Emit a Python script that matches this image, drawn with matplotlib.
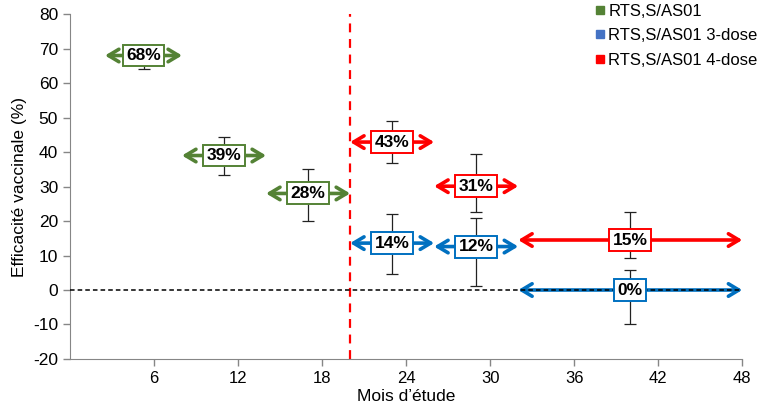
import matplotlib.pyplot as plt
from matplotlib.lines import Line2D

plt.rcParams['font.family'] = ['Liberation Sans', 'DejaVu Sans']
plt.rcParams['axes.unicode_minus'] = False

# data
groups = ['RTS,S/AS01', 'RTS,S/AS01 3-dose', 'RTS,S/AS01 4-dose']
colors = ['#548235', '#0070C0', '#FF0000']
legend_colors = ['#548235', '#4472C4', '#FF0000']

green_start = [2.5, 8, 14]
green_end = [8, 14, 20]
green_ve = [68, 39, 28]
green_lo = [64, 33.3, 20]
green_hi = [71, 44.3, 35]

blue_start = [20, 26, 32]
blue_end = [26, 32, 48]
blue_ve = [14, 12, 0]
blue_pos = [13.6, 12.6, 0]
blue_lo = [4.6, 1.2, -10]
blue_hi = [22.1, 21, 5.8]

red_start = [20, 26, 32]
red_end = [26, 32, 48]
red_ve = [43, 31, 15]
red_pos = [42.9, 30.1, 14.5]
red_lo = [36.8, 22.7, 9.2]
red_hi = [49, 39.4, 22.7]

x_ticks = [6, 12, 18, 24, 30, 36, 42, 48]
y_ticks = list(range(-20, 81, 10))
booster_month = 20

fig = plt.figure(figsize=(7.58, 4.13), dpi=100)
ax = fig.add_axes([0.0923, 0.1308, 0.887, 0.835])


def draw_series(starts, ends, pos, labels, lo, hi, color):
    for x0, x1, y, lab, l, h in zip(starts, ends, pos, labels, lo, hi):
        xc = (x0 + x1) / 2
        ax.annotate('', xy=(x1, y), xytext=(x0, y),
                    arrowprops=dict(arrowstyle='<->,head_length=0.75,head_width=0.45',
                                    lw=2.6, color=color, shrinkA=0, shrinkB=0),
                    zorder=3)
        ax.errorbar([xc], [y], yerr=[[y - l], [h - y]], fmt='none',
                    ecolor='#222222', elinewidth=0.9, capsize=4, capthick=0.9, zorder=4)
        ax.text(xc, y, f'{lab}%', ha='center', va='center', fontsize=12.5,
                fontweight='bold', color='black', zorder=6,
                bbox=dict(boxstyle='square,pad=0.2', fc='white', ec=color, lw=1.4))


draw_series(green_start, green_end, green_ve, green_ve, green_lo, green_hi, colors[0])
draw_series(blue_start, blue_end, blue_pos, blue_ve, blue_lo, blue_hi, colors[1])
draw_series(red_start, red_end, red_pos, red_ve, red_lo, red_hi, colors[2])

ax.axhline(0, color='black', lw=1.1, ls=(0, (3, 2)), zorder=5)
ax.axvline(booster_month, color='#FF0000', lw=1.6, ls=(0, (4, 3)), zorder=2)

ax.set_xlim(0, 48)
ax.set_ylim(-20, 80)
ax.set_xticks(x_ticks)
ax.set_yticks(y_ticks)
ax.tick_params(color='#868686', length=5, width=1)
ax.tick_params(axis='y', labelsize=12.5)
ax.tick_params(axis='x', labelsize=12)
for s in ['top', 'right']:
    ax.spines[s].set_visible(False)
for s in ['left', 'bottom']:
    ax.spines[s].set_color('#868686')

ax.set_xlabel("Mois d\u2019\u00e9tude", fontsize=12.5, labelpad=2)
ax.set_ylabel('Efficacit\u00e9 vaccinale (%)', fontsize=12.5)

handles = [Line2D([], [], marker='s', ls='none', color=c, markersize=6) for c in legend_colors]
ax.legend(handles, groups, loc='upper left', bbox_to_anchor=(0.766, 1.05),
          frameon=False, fontsize=12, handletextpad=0.0, labelspacing=0.58,
          handlelength=1.0, borderaxespad=0)

fig.savefig('out.png', dpi=100)
